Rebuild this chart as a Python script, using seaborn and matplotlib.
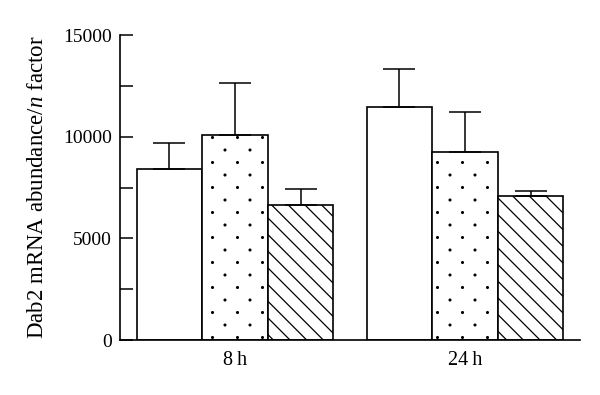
import numpy as np
import pandas as pd
import matplotlib
matplotlib.use('Agg')
import matplotlib.pyplot as plt
import matplotlib.hatch as mhatch
from matplotlib.path import Path
import seaborn as sns

# ---- data ----
times = ['8\u2009h', '24\u2009h']
treatments = ['control', 'treatment A', 'treatment B']
means_8h = [8400, 10080, 6620]
means_24h = [11480, 9230, 7100]
err_8h = [1300, 2580, 820]
err_24h = [1830, 2000, 240]
ytick_vals = [0, 5000, 10000, 15000]
ylabel_text = r'Dab2 mRNA abundance/$\mathit{n}$ factor'


# ---- sparse staggered dot hatch (replaces the default '.' pattern) ----
class SparseDots(mhatch.HatchPatternBase):
    def __init__(self, hatch, density):
        n = hatch.count('.')
        circ = Path.unit_circle()
        self.shape_vertices = circ.vertices * 0.009
        self.shape_codes = circ.codes
        pts = []
        if n:
            rows, cols = 8 * n, 4 * n
            for r in range(rows + 1):
                if r % 2 == 0:
                    xs = np.linspace(0, 1, cols + 1)
                else:
                    xs = (np.arange(cols) + 0.5) / cols
                for x in xs:
                    pts.append((x, r / rows))
        self.pts = pts
        self.num_vertices = len(pts) * len(self.shape_vertices)

    def set_vertices_and_codes(self, vertices, codes):
        np.concatenate([self.shape_vertices + p for p in self.pts], out=vertices)
        np.concatenate([self.shape_codes for _ in self.pts], out=codes)


mhatch._hatch_types = [SparseDots if t is mhatch.SmallFilledCircles else t
                       for t in mhatch._hatch_types]

# ---- table ----
rows = []
for t, ms, es in [(times[0], means_8h, err_8h), (times[1], means_24h, err_24h)]:
    for tr, m, e in zip(treatments, ms, es):
        rows.append({'time': t, 'treatment': tr, 'value': m, 'err': e})
df = pd.DataFrame(rows)

sns.set_theme(style='white')
plt.rcParams['font.family'] = ['Liberation Serif', 'DejaVu Serif']
plt.rcParams['mathtext.fontset'] = 'custom'
plt.rcParams['mathtext.rm'] = 'Liberation Serif'
plt.rcParams['mathtext.it'] = 'Liberation Serif:italic'
plt.rcParams['hatch.linewidth'] = 0.9
plt.rcParams['hatch.color'] = 'black'

fig = plt.figure(figsize=(6.0, 3.95), dpi=100)
ax = fig.add_axes([0.2, 0.13924, 0.76667, 0.77215])

sns.barplot(data=df, x='time', y='value', hue='treatment', order=times,
            hue_order=treatments, palette=['white'] * 3, edgecolor='black',
            linewidth=1.2, width=0.855, errorbar=None, legend=False, ax=ax,
            saturation=1)

hatches = ['', '.', '\\\\']
for cont, h, tr in zip(ax.containers, hatches, treatments):
    sub = df[df['treatment'] == tr].set_index('time').loc[times]
    xs, tops = [], []
    for p in cont.patches:
        p.set_hatch(h)
        p.set_facecolor('white')
        p.set_edgecolor('black')
        xs.append(p.get_x() + p.get_width() / 2)
        tops.append(p.get_height())
    errs = sub['err'].values
    ax.errorbar(xs, tops, yerr=[np.zeros(len(errs)), errs], fmt='none',
                ecolor='black', elinewidth=1.1, capsize=11.5, capthick=1.1,
                zorder=1)

ax.set_xlim(-0.5, 1.5)
ax.set_ylim(0, 15000)
ax.set_yticks(ytick_vals)
ax.set_yticklabels([str(v) for v in ytick_vals])
ax.set_yticks([2500, 7500, 12500], minor=True)
ax.tick_params(axis='y', which='both', direction='in', length=9.5, width=1.1,
               color='black', left=True, labelsize=14, pad=6, labelcolor='black')
ax.tick_params(axis='x', length=0, labelsize=14.5, pad=8, labelcolor='black')
ax.set_xlabel('')
ax.set_ylabel(ylabel_text, fontsize=16.5, color='black', labelpad=11)

for s in ['top', 'right']:
    ax.spines[s].set_visible(False)
for s in ['left', 'bottom']:
    ax.spines[s].set_color('black')
    ax.spines[s].set_linewidth(1.2)

fig.savefig('out.png', dpi=100)
